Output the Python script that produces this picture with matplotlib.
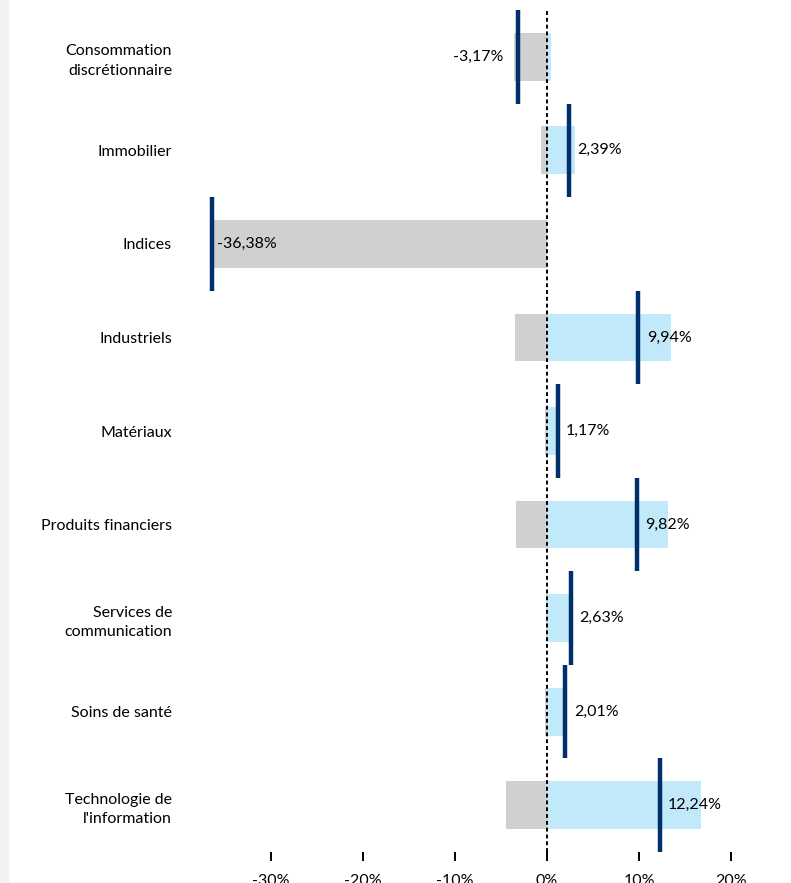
import matplotlib
matplotlib.use('Agg')
import matplotlib.pyplot as plt
from matplotlib.patches import Rectangle
from matplotlib.ticker import FuncFormatter

plt.rcParams['font.family'] = ['Lato', 'DejaVu Sans']

secteurs = ['Consommation\ndiscrétionnaire', 'Immobilier', 'Indices', 'Industriels', 'Matériaux',
            'Produits financiers', 'Services de\ncommunication', 'Soins de santé',
            "Technologie de\nl'information"]
# contributions négatives / positives (%) et rendement net (%)
negatif = [-3.60, -0.70, -36.38, -3.50, -0.20, -3.35, -0.12, -0.20, -4.45]
positif = [0.43, 3.09, 0.0, 13.44, 1.37, 13.17, 2.75, 2.21, 16.69]
net = [-3.17, 2.39, -36.38, 9.94, 1.17, 9.82, 2.63, 2.01, 12.24]
ticks = [-30, -20, -10, 0, 10, 20]

gris = '#d0d0d0'
bleu = '#c1e9f9'
marine = '#00306b'
fs = 11.5

fig = plt.figure(figsize=(7.91, 8.83), dpi=100)
fig.patches.append(Rectangle((0, 0), 8 / 791, 1, transform=fig.transFigure, color='#f2f2f2', zorder=0))
ax = fig.add_axes([179 / 791, 31 / 883, 552 / 791, 842 / 883])

y = list(range(len(secteurs)))
ax.barh(y, negatif, height=0.51, color=gris, zorder=2)
ax.barh(y, positif, height=0.51, color=bleu, zorder=2)
ax.axvline(0, color='black', linestyle=(0, (2, 1.5)), linewidth=1.4, zorder=3, clip_on=False)
for i, v in enumerate(net):
    ax.plot([v, v], [i - 0.5, i + 0.5], color=marine, linewidth=3.2, solid_capstyle='butt', zorder=4)
    txt = f'{v:.2f}%'.replace('.', ',')
    if v < -10:
        ax.text(v + 0.5, i, txt, ha='left', va='center', fontsize=fs, zorder=5)
    elif v < 0:
        ax.text(negatif[i] - 1.1, i, txt, ha='right', va='center', fontsize=fs, zorder=5)
    else:
        ax.text(v + 0.9, i, txt, ha='left', va='center', fontsize=fs, zorder=5)

ax.set_xlim(-40, 20)
ax.set_ylim(len(secteurs) - 0.5, -0.5)
ax.set_xticks(ticks)
ax.xaxis.set_major_formatter(FuncFormatter(lambda x, pos: f'{x:.0f}%'))
ax.set_yticks(y)
ax.set_yticklabels(secteurs, fontsize=fs, linespacing=1.5)
ax.tick_params(axis='y', length=0, pad=5)
ax.tick_params(axis='x', length=6.5, width=1.4, pad=9, labelsize=fs)
for s in ax.spines.values():
    s.set_visible(False)

fig.savefig('out.png', dpi=100)
